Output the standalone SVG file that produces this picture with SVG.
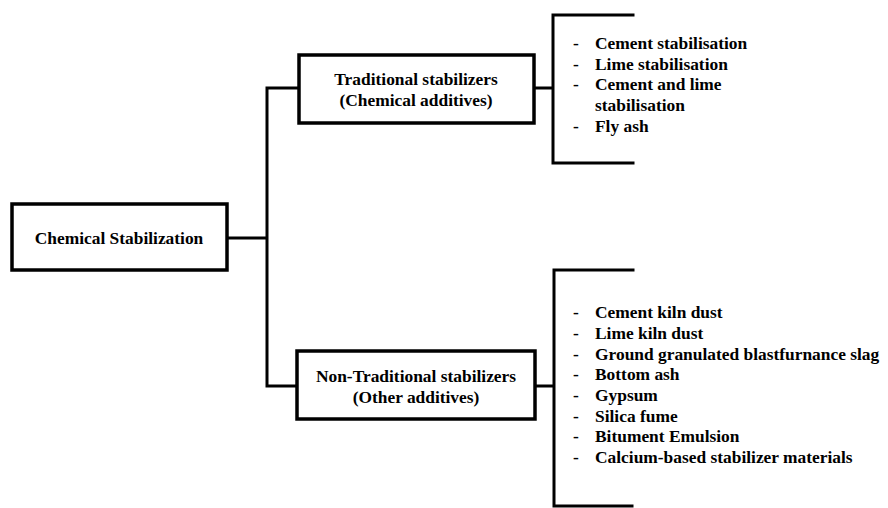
<svg xmlns="http://www.w3.org/2000/svg" width="888" height="508" viewBox="0 0 888 508">
<style>
.box{fill:#fff;stroke:#000;stroke-width:3.5}
.ln{fill:none;stroke:#000;stroke-width:3;stroke-linecap:square}
text{font-family:"Liberation Serif","Times New Roman",serif;font-weight:bold;font-size:17.4px;fill:#000}
.c{text-anchor:middle}
</style>
<rect width="888" height="508" fill="#fff"/>
<g id="connectors">
<path class="ln" d="M227 238 H267 M267 88 V386 M267 88 H299 M267 386 H297"/>
<path class="ln" d="M534 88 H553 M633 15 H553 V163 H633"/>
<path class="ln" d="M535 386 H554 M633 270 H554 V506 H632"/>
</g>
<g id="chemical-stabilization">
<rect class="box" x="12" y="204" width="215" height="66"/>
<text class="c" x="119" y="244">Chemical Stabilization</text>
</g>
<g id="traditional">
<rect class="box" x="299" y="55" width="235" height="68"/>
<text class="c" x="416" y="85">Traditional stabilizers</text>
<text class="c" x="416" y="106">(Chemical additives)</text>
</g>
<g id="non-traditional">
<rect class="box" x="297" y="351" width="238" height="68"/>
<text class="c" x="416" y="382">Non-Traditional stabilizers</text>
<text class="c" x="416" y="403">(Other additives)</text>
</g>
<g id="traditional-list">
<text x="573" y="49">-</text><text x="595" y="49">Cement stabilisation</text>
<text x="573" y="70">-</text><text x="595" y="70">Lime stabilisation</text>
<text x="573" y="90">-</text><text x="595" y="90">Cement and lime</text>
<text x="595" y="111">stabilisation</text>
<text x="573" y="132">-</text><text x="595" y="132">Fly ash</text>
</g>
<g id="non-traditional-list">
<text x="573" y="318">-</text><text x="595" y="318">Cement kiln dust</text>
<text x="573" y="339">-</text><text x="595" y="339">Lime kiln dust</text>
<text x="573" y="360">-</text><text x="595" y="360">Ground granulated blastfurnance slag</text>
<text x="573" y="380">-</text><text x="595" y="380">Bottom ash</text>
<text x="573" y="401">-</text><text x="595" y="401">Gypsum</text>
<text x="573" y="422">-</text><text x="595" y="422">Silica fume</text>
<text x="573" y="442">-</text><text x="595" y="442">Bitument Emulsion</text>
<text x="573" y="463">-</text><text x="595" y="463">Calcium-based stabilizer materials</text>
</g>
</svg>
